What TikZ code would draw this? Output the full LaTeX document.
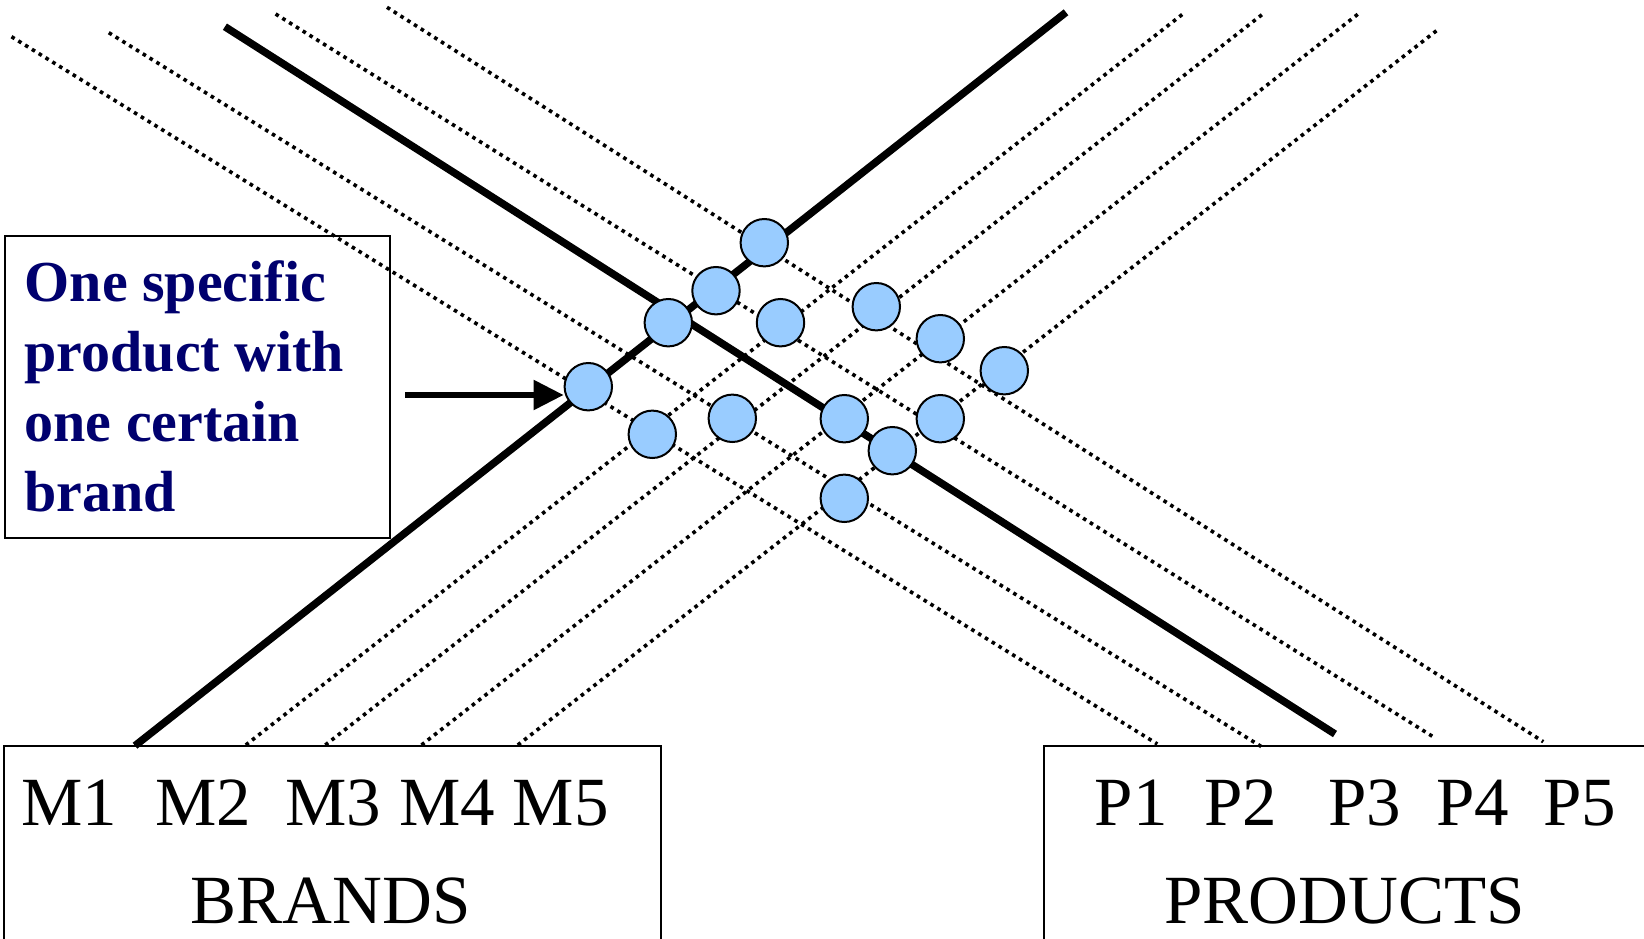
\documentclass[tikz,border=0pt]{standalone}
\usepackage{fontspec}
\setmainfont{Liberation Serif}
\usetikzlibrary{arrows.meta}
\definecolor{dotfill}{HTML}{99CCFF}
\definecolor{navytext}{RGB}{0,0,110}
\begin{document}
\begin{tikzpicture}[x=1pt,y=-1pt,
 axisline/.style={line width=7.5pt},
 dotline/.style={line width=3.6pt, dash pattern=on 3.6pt off 4.4pt},
 dotnode/.style={circle, draw, line width=2pt, fill=dotfill, minimum size=47.4pt, inner sep=0pt},
 frame/.style={draw, line width=2pt},
 lbl/.style={anchor=base, inner sep=0pt, font=\fontsize{69}{80}\selectfont},
 note/.style={anchor=base west, inner sep=0pt, text=navytext, font=\fontsize{58}{70}\selectfont\bfseries}]
\useasboundingbox (0,0) rectangle (1644,939);

% product lines (down-right)
\coordinate (p1s) at (11.5,36.7);   \coordinate (p1e) at (1157.3,744);
\coordinate (p2s) at (108.8,32.7);  \coordinate (p2e) at (1262,747);
\coordinate (p3s) at (224.9,26.7);  \coordinate (p3e) at (1335,734);
\coordinate (p4s) at (275.6,14);    \coordinate (p4e) at (1435.6,738.3);
\coordinate (p5s) at (387,7.3);     \coordinate (p5e) at (1543.3,741.7);
% brand lines (up-right)
\coordinate (m1s) at (135,745.7);   \coordinate (m1e) at (1066,12.3);
\coordinate (m2s) at (245.8,745);   \coordinate (m2e) at (1185,12.3);
\coordinate (m3s) at (325.3,745);   \coordinate (m3e) at (1265,12.3);
\coordinate (m4s) at (421.5,745);   \coordinate (m4e) at (1360.3,12.3);
\coordinate (m5s) at (517.8,745);   \coordinate (m5e) at (1438.7,29);

\draw[dotline] (p1s) -- (p1e);
\draw[dotline] (p2s) -- (p2e);
\draw[axisline] (p3s) -- (p3e);
\draw[dotline] (p4s) -- (p4e);
\draw[dotline] (p5s) -- (p5e);
\draw[axisline] (m1s) -- (m1e);
\draw[dotline] (m2s) -- (m2e);
\draw[dotline] (m3s) -- (m3e);
\draw[dotline] (m4s) -- (m4e);
\draw[dotline] (m5s) -- (m5e);

% boxes
\draw[frame] (4.2,950) |- (660.5,746.3) -- (660.5,950);
\draw[frame] (1043.8,950) |- (1650,746.3);
\node[frame, minimum width=384.3pt, minimum height=302pt, anchor=north west, inner sep=0pt] (notebox) at (4.2,235) {};

% circles
\node[dotnode] (c1) at (764.3,242.7) {};
\node[dotnode] (c2) at (716,290.7) {};
\node[dotnode] (c3) at (668.3,322.7) {};
\node[dotnode] (c4) at (588.3,386.7) {};
\node[dotnode] (c5) at (780.5,322.7) {};
\node[dotnode] (c6) at (876.3,306.7) {};
\node[dotnode] (c7) at (940.3,338.7) {};
\node[dotnode] (c8) at (1004.3,370.7) {};
\node[dotnode] (c9) at (652.3,434.3) {};
\node[dotnode] (c10) at (732.3,418.3) {};
\node[dotnode] (c11) at (844.3,418.7) {};
\node[dotnode] (c12) at (940.3,418.7) {};
\node[dotnode] (c13) at (892.3,450.7) {};
\node[dotnode] (c14) at (844.3,498.3) {};

% arrow
\coordinate (astart) at (405,395);
\draw[line width=5.5pt, -{Triangle[length=30pt,width=29pt]}] (astart) -- (astart -| c4.west);

% note text
\node[note] (n1) at (24.5,301.5) {One specific};
\node[note] (n2) at (24.5,371.5) {product with};
\node[note] (n3) at (24.5,441.5) {one certain};
\node[note] (n4) at (24.5,511.5) {brand};

% brand labels
\node[lbl] (M1) at (69.3,825) {M1};
\node[lbl] (M2) at (203,825) {M2};
\node[lbl] (M3) at (333.3,825) {M3};
\node[lbl] (M4) at (447.3,825) {M4};
\node[lbl] (M5) at (560.9,825) {M5};
\node[lbl] (brands) at (330.8,923) {BRANDS};

% product labels
\node[lbl] (P1) at (1131.2,825) {P1};
\node[lbl] (P2) at (1241,825) {P2};
\node[lbl] (P3) at (1364.8,825) {P3};
\node[lbl] (P4) at (1472.7,825) {P4};
\node[lbl] (P5) at (1580,825) {P5};
\node[lbl] (products) at (1344.4,923) {PRODUCTS};
\end{tikzpicture}
\end{document}
